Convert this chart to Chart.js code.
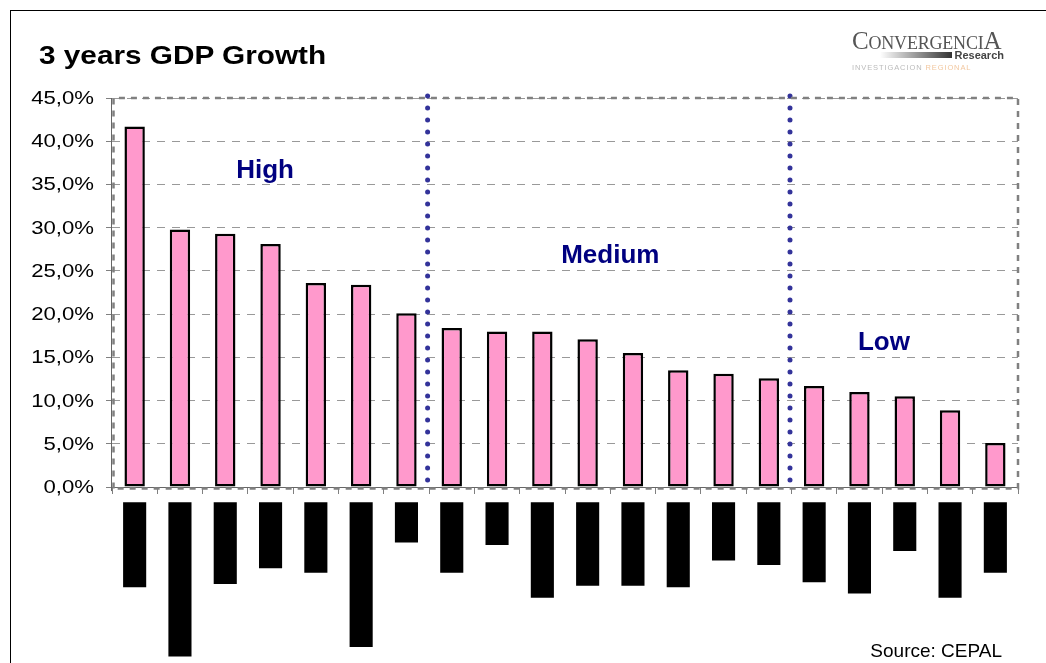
<!DOCTYPE html>
<html>
<head>
<meta charset="utf-8">
<script src="https://cdn.jsdelivr.net/npm/chart.js@4.4.0/dist/chart.umd.min.js"></script>
<style>
  html, body { margin: 0; padding: 0; background: #fff; }
  #wrap { position: relative; width: 1046px; height: 663px; overflow: hidden; font-family: Arial, "Liberation Sans", sans-serif; }
  #frame { position: absolute; left: 10px; top: 10px; width: 1100px; height: 700px; border-left: 1px solid #000; border-top: 1px solid #000; }
  #chart { position: absolute; left: 0; top: 0; }
  #title { position: absolute; left: 39px; top: 43px; font-size: 25px; line-height: 25px; font-weight: bold; white-space: nowrap; transform: scaleX(1.19); transform-origin: left top; }
  #source { position: absolute; right: 44px; top: 641px; font-size: 19px; line-height: 19px; color: #000; }
  #logo { position: absolute; left: 852px; top: 27px; width: 154px; height: 46px; filter: blur(0.5px); }
  #logo .name { position: absolute; left: 0; top: 0; font-family: "Liberation Serif", serif; font-size: 18px; color: #555; letter-spacing: -0.2px; white-space: nowrap; }
  #logo .name b { font-weight: normal; font-size: 25px; }
  #logo .bar { position: absolute; left: 28px; top: 25px; width: 72px; height: 6px; background: linear-gradient(to right, #fff, #333); }
  #logo .res { position: absolute; right: 2px; top: 22px; font-size: 11px; font-weight: bold; color: #444; }
  #logo .sub { position: absolute; left: 0; top: 36px; font-size: 7.5px; color: #bbb; letter-spacing: 0.9px; white-space: nowrap; }
  #logo .sub span { color: #f2c79f; }
</style>
</head>
<body>
<div id="wrap">
  <canvas id="chart" width="1046" height="663"></canvas>
  <div id="frame"></div>
  <div id="title">3 years GDP Growth</div>
  <div id="logo">
    <div class="name"><b>C</b>ONVERGENCI<b>A</b></div>
    <div class="bar"></div>
    <div class="res">Research</div>
    <div class="sub">INVESTIGACION <span>REGIONAL</span></div>
  </div>
  <div id="source">Source: CEPAL</div>
</div>
<script>
// countries ranked by growth (names sit in the blacked-out label blocks)
const countryRank = ['1', '2', '3', '4', '5', '6', '7', '8', '9', '10',
  '11', '12', '13', '14', '15', '16', '17', '18', '19', '20'];
const growth = [41.7, 29.8, 29.3, 28.1, 23.6, 23.4, 20.1, 18.4, 18.0, 18.0,
  17.1, 15.5, 13.5, 13.1, 12.6, 11.7, 11.0, 10.5, 8.9, 5.1];
// depth of each black label block under the axis
const labelBlock = [11.6, 19.6, 11.2, 9.4, 9.9, 18.5, 6.4, 9.9, 6.7, 12.8,
  11.4, 11.4, 11.6, 8.5, 9.0, 11.0, 12.3, 7.4, 12.8, 9.9];
const yTickValues = [0, 5, 10, 15, 20, 25, 30, 35, 40, 45];
const groupNames = ['High', 'Medium', 'Low'];
const groupStarts = [0, 7, 15];

const fmtPct = v => v.toFixed(1).replace('.', ',') + '%';

// dashed plot frame, solid y axis line, stretched tick labels
const plotFrame = {
  id: 'plotFrame',
  afterDraw(chart) {
    const { ctx, scales: { x, y } } = chart;
    const y0 = y.getPixelForValue(0);
    ctx.save();
    ctx.strokeStyle = '#808080';
    ctx.lineWidth = 2.5;
    ctx.setLineDash([6, 6]);
    ctx.beginPath();
    ctx.moveTo(x.left + 1.5, y0 + 1.5);
    ctx.lineTo(x.left + 1.5, y.top);
    ctx.lineTo(x.right, y.top);
    ctx.lineTo(x.right, y0 + 1.5);
    ctx.lineTo(x.left, y0 + 1.5);
    ctx.stroke();
    ctx.setLineDash([]);
    ctx.lineWidth = 1;
    ctx.strokeStyle = '#666';
    ctx.beginPath();
    ctx.moveTo(x.left - 0.5, y.top);
    ctx.lineTo(x.left - 0.5, y0 + 4);
    ctx.stroke();

    ctx.fillStyle = '#000';
    ctx.font = '18px Arial, "Liberation Sans"';
    ctx.textAlign = 'right';
    ctx.textBaseline = 'middle';
    y.ticks.forEach(t => {
      ctx.save();
      ctx.translate(x.left - 18, y.getPixelForValue(t.value) + 1);
      ctx.scale(1.23, 1);
      ctx.fillText(fmtPct(t.value), 0, 0);
      ctx.restore();
    });
    ctx.restore();
  }
};

// dotted group dividers and group names
const groups = {
  id: 'groups',
  afterDatasetsDraw(chart, args, opts) {
    const { ctx, scales: { x, y } } = chart;
    const y0 = y.getPixelForValue(0);
    ctx.save();
    ctx.strokeStyle = '#33339a';
    ctx.lineWidth = 5;
    ctx.lineCap = 'round';
    ctx.setLineDash([0, 12]);
    groupStarts.slice(1).forEach(s => {
      const px = x.getPixelForValue(s - 0.5) - 1.5;
      ctx.beginPath();
      ctx.moveTo(px, y.top - 2);
      ctx.lineTo(px, y0);
      ctx.stroke();
    });
    ctx.fillStyle = '#000080';
    ctx.font = 'bold 26px Arial, "Liberation Sans"';
    ctx.textAlign = 'center';
    ctx.textBaseline = 'alphabetic';
    groupNames.forEach((name, i) => {
      const [cx, cy] = opts.anchors[i];
      ctx.fillText(name, x.getPixelForValue(cx), y.getPixelForValue(cy));
    });
    ctx.restore();
  }
};

new Chart(document.getElementById('chart'), {
  type: 'bar',
  data: {
    labels: countryRank,
    datasets: [{
      label: '3 years GDP Growth',
      data: growth,
      backgroundColor: '#FF99CC',
      borderColor: '#000',
      borderWidth: 2.5,
      borderSkipped: false,
      barPercentage: 0.45,
      categoryPercentage: 1,
      grouped: false
    }, {
      label: 'labels',
      data: labelBlock.map(v => [-1.75, -v]),
      backgroundColor: '#000',
      borderWidth: 0,
      barPercentage: 0.51,
      categoryPercentage: 1,
      grouped: false
    }]
  },
  options: {
    responsive: false,
    animation: false,
    layout: { padding: { top: 98, right: 28, bottom: 3, left: 10 } },
    plugins: {
      legend: { display: false },
      tooltip: { enabled: false },
      groups: { anchors: [[2.88, 35.8], [10.5, 25.95], [16.54, 15.85]] }
    },
    scales: {
      x: {
        position: { y: 0 },
        grid: { offset: true, drawOnChartArea: false, drawTicks: true, tickLength: 6, color: '#808080' },
        border: { color: '#666', width: 1 },
        ticks: { display: false }
      },
      y: {
        min: -20,
        max: 45,
        afterBuildTicks: axis => { axis.ticks = yTickValues.map(v => ({ value: v })); },
        afterFit: axis => { axis.width = 102; },
        ticks: { display: false },
        grid: { color: '#999', lineWidth: 1, tickLength: 6, tickColor: '#808080', tickBorderDash: [] },
        border: { display: false, dash: [8, 7] }
      }
    }
  },
  plugins: [plotFrame, groups]
});
</script>
</body>
</html>
